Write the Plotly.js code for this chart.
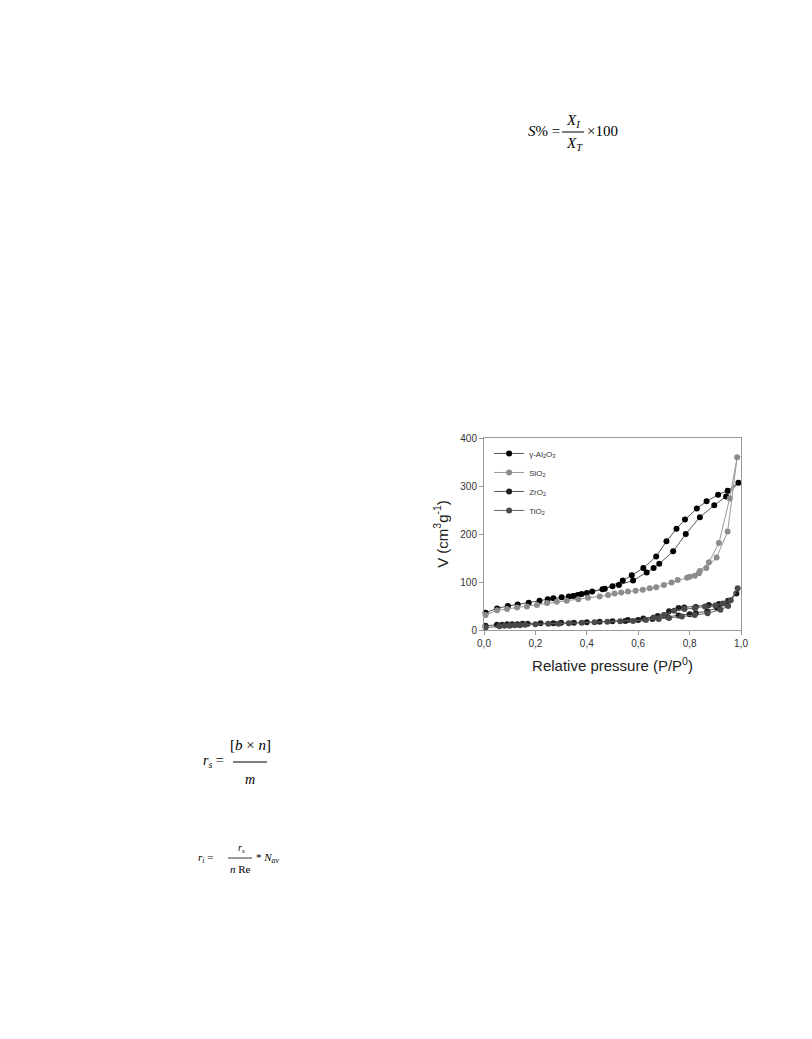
<!DOCTYPE html>
<html>
<head>
<meta charset="utf-8">
<script src="https://cdn.plot.ly/plotly-3.0.1.min.js"></script>
<style>html,body{margin:0;padding:0;background:#fff;}#chart{width:812px;height:1039px;}</style>
</head>
<body>
<div id="chart"></div>
<script>
// ---- data ----
var seriesNames = ["γ-Al<sub>2</sub>O<sub>3</sub>", "SiO<sub>2</sub>", "ZrO<sub>2</sub>", "TiO<sub>2</sub>"];

// γ-Al2O3: adsorption then desorption branch
var al2o3P = [0.006,0.051,0.093,0.131,0.174,0.216,0.248,0.27,0.302,0.33,0.347,0.367,0.38,0.421,0.461,0.5,0.525,0.58,0.633,0.66,0.682,0.736,0.785,0.84,0.896,0.942,0.99,
              0.948,0.911,0.866,0.828,0.782,0.749,0.71,0.67,0.62,0.575,0.54,0.47,0.40,0.36];
var al2o3V = [36,45,50,53,57,61,64,66,68,70,71,73,75,80,85,91,94,103,120,129,138,164,200,235,260,278,307,
              290,282,268,253,230,211,185,153,129,114,103,86,77,72];

// SiO2
var sio2P = [0.006,0.051,0.09,0.129,0.167,0.206,0.245,0.283,0.322,0.367,0.405,0.45,0.483,0.508,0.534,0.56,0.59,0.618,0.645,0.67,0.70,0.73,0.754,0.79,0.82,0.836,0.865,0.905,0.948,0.985,
             0.956,0.914,0.875,0.84,0.80];
var sio2V = [31,41,44,47,49,52,56,59,61,64,67,70,73,76,78,80,82,84,87,89,94,99,104,109,113,118,129,151,205,360,
             274,181,141,123,111];

// ZrO2
var zro2P = [0.006,0.05,0.07,0.09,0.11,0.13,0.15,0.17,0.22,0.27,0.30,0.35,0.40,0.45,0.50,0.55,0.60,0.656,0.714,0.757,0.80,0.824,0.869,0.907,0.946,0.982,
             0.95,0.914,0.875,0.824,0.779,0.757,0.72,0.676,0.62,0.56];
var zro2V = [9,11,11,12,12,12,13,13,14,14,15,15,16,17,18,19,21,23,27,30,33,35,39,46,54,76,
             61,54,52,48,47,46,39,29,24,21];

// TiO2
var tio2P = [0.006,0.06,0.08,0.10,0.12,0.14,0.16,0.20,0.25,0.29,0.33,0.38,0.43,0.48,0.53,0.58,0.63,0.68,0.72,0.77,0.82,0.87,0.92,0.95,0.987,
             0.96,0.93,0.90,0.86,0.82,0.78,0.74,0.70,0.66];
var tio2V = [5,8,9,9,10,10,11,12,13,13,14,15,16,17,18,19,21,23,25,28,31,35,42,50,87,
             62,55,51,49,46,44,40,31,26];

var seriesP = [al2o3P, sio2P, zro2P, tio2P];
var seriesV = [al2o3V, sio2V, zro2V, tio2V];
var markerColors = ["#000000", "#8c8c8c", "#1e1e1e", "#4a4a4a"];
var lineColors = ["#555555", "#9a9a9a", "#555555", "#666666"];

var xTickVals = [0, 0.2, 0.4, 0.6, 0.8, 1.0];
var yTickVals = [0, 100, 200, 300, 400];

// ---- layout helpers ----
var L = 484, R = 741, T = 438, B = 630;
function px(x) { return (x - L) / (R - L); }
function py(y) { return (B - y) / (B - T); }

var traces = seriesP.map(function (p, i) {
  return {
    x: p, y: seriesV[i], name: seriesNames[i],
    type: 'scatter', mode: 'lines+markers', cliponaxis: false,
    line: {color: lineColors[i], width: 1},
    marker: {color: markerColors[i], size: 6, symbol: 'circle'}
  };
});

var serif = 'Liberation Serif, Times New Roman, serif';
function ann(text, x, y, size, anchor) {
  return {text: text, xref: 'paper', yref: 'paper', x: px(x), y: py(y), showarrow: false,
          xanchor: anchor || 'center', yanchor: 'middle', font: {family: serif, size: size, color: '#000'}};
}

var annotations = [
  // S% = X_I / X_T × 100
  ann('<i>S</i>% =', 526, 131, 15, 'left'),
  ann('<i>X</i><sub><i>I</i></sub>', 573, 121, 15),
  ann('<i>X</i><sub><i>T</i></sub>', 574, 144, 15),
  ann('×100', 585, 131, 15, 'left'),
  // r_s = [b × n] / m
  ann('<i>r</i><sub><i>s</i></sub> =', 201, 761, 14, 'left'),
  ann('[<i>b</i> × <i>n</i>]', 250, 745, 15),
  ann('<i>m</i>', 250, 779, 14),
  // r_i = r_s / (n Re) * N_av
  ann('<i>r</i><sub><i>i</i></sub> =', 196, 858, 11, 'left'),
  ann('<i>r</i><sub><i>s</i></sub>', 241, 848, 10),
  ann('<i>n</i> Re', 240, 869, 11),
  ann('* <i>N</i><sub><i>av</i></sub>', 254, 858, 11, 'left')
];

var shapes = [
  {type: 'line', xref: 'paper', yref: 'paper', x0: px(562), x1: px(584), y0: py(132), y1: py(132), line: {color: '#000', width: 1}},
  {type: 'line', xref: 'paper', yref: 'paper', x0: px(233), x1: px(267), y0: py(762), y1: py(762), line: {color: '#000', width: 1}},
  {type: 'line', xref: 'paper', yref: 'paper', x0: px(228), x1: px(252), y0: py(858), y1: py(858), line: {color: '#000', width: 0.8}}
];

var layout = {
  width: 812, height: 1039,
  margin: {l: L, r: 812 - R, t: T, b: 1039 - B},
  paper_bgcolor: '#fff', plot_bgcolor: '#fff',
  separators: ',.',
  font: {family: 'Liberation Sans, Arial, sans-serif', color: '#333'},
  showlegend: true,
  legend: {x: 0.02, y: 0.995, xanchor: 'left', yanchor: 'top', bgcolor: 'rgba(0,0,0,0)',
           font: {size: 8, color: '#333'}, itemwidth: 30, tracegroupgap: 0},
  xaxis: {range: [0, 1], tickvals: xTickVals, tickformat: '.1f', showgrid: false, zeroline: false,
          showline: true, mirror: true, linecolor: '#999', linewidth: 1,
          ticks: 'outside', ticklen: 4, tickcolor: '#999', tickfont: {size: 10, color: '#333'},
          title: {text: 'Relative pressure (P/P<sup>0</sup>)', font: {size: 15, color: '#222'}, standoff: 12}},
  yaxis: {range: [0, 400], tickvals: yTickVals, showgrid: false, zeroline: false,
          showline: true, mirror: true, linecolor: '#999', linewidth: 1,
          ticks: 'outside', ticklen: 4, tickcolor: '#999', tickfont: {size: 10, color: '#333'},
          title: {text: 'V (cm<sup>3</sup>g<sup>-1</sup>)', font: {size: 15, color: '#222'}, standoff: 8}},
  annotations: annotations,
  shapes: shapes
};

Plotly.newPlot('chart', traces, layout, {displayModeBar: false});
</script>
</body>
</html>
